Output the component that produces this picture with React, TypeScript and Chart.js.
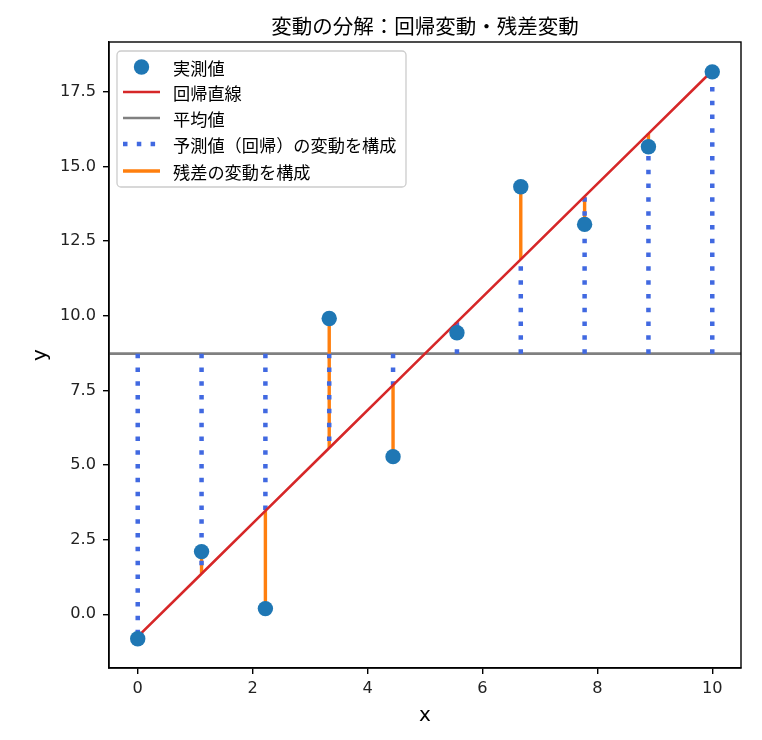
import { useEffect, useRef } from 'react';
import { Chart, registerables } from 'chart.js';

Chart.register(...registerables);

const TITLE = '変動の分解：回帰変動・残差変動';
const X_LABEL = 'x';
const Y_LABEL = 'y';
const seriesLabels = ['実測値', '回帰直線', '平均値', '予測値（回帰）の変動を構成', '残差の変動を構成'];

const xValues = [0, 1.111, 2.222, 3.333, 4.444, 5.556, 6.667, 7.778, 8.889, 10];
const yValues = [-0.82, 2.1, 0.19, 9.91, 5.28, 9.43, 14.32, 13.06, 15.66, 18.17];

const xTicks = [0, 2, 4, 6, 8, 10];
const yTicks = [0, 2.5, 5, 7.5, 10, 12.5, 15, 17.5];
const xRange = [-0.5, 10.5];
const yRange = [-1.8, 19.17];

const COLORS = {
  point: '#1f77b4',
  reg: '#d62728',
  mean: '#808080',
  explained: '#4169e1',
  resid: '#ff7f0e',
};

const JP = '"Noto Sans CJK JP", "Noto Sans", sans-serif';
const LAT = '"DejaVu Sans", sans-serif';
const DOT = [4.5, 9.3];

// least squares fit and mean from the data
const n = xValues.length;
const meanX = xValues.reduce((a, b) => a + b, 0) / n;
const meanY = yValues.reduce((a, b) => a + b, 0) / n;
let sxy = 0;
let sxx = 0;
for (let i = 0; i < n; i++) {
  sxy += (xValues[i] - meanX) * (yValues[i] - meanY);
  sxx += (xValues[i] - meanX) ** 2;
}
const slope = sxy / sxx;
const intercept = meanY - slope * meanX;
const predicted = xValues.map((x) => intercept + slope * x);

const decorPlugin = {
  id: 'decor',
  afterDraw(chart: any) {
    const ctx = chart.ctx as CanvasRenderingContext2D;
    const { left, top, right, bottom } = chart.chartArea;
    ctx.save();
    // frame
    ctx.strokeStyle = '#000';
    ctx.lineWidth = 1.4;
    ctx.strokeRect(left, top, right - left, bottom - top);

    // title
    ctx.fillStyle = '#000';
    ctx.textAlign = 'center';
    ctx.textBaseline = 'middle';
    ctx.font = `20.5px ${JP}`;
    ctx.fillText(TITLE, (left + right) / 2, top - 16);

    // axis labels
    ctx.font = `20px ${LAT}`;
    ctx.fillText(X_LABEL, (left + right) / 2, 716);
    ctx.save();
    ctx.translate(41, (top + bottom) / 2);
    ctx.rotate(-Math.PI / 2);
    ctx.fillText(Y_LABEL, 0, 0);
    ctx.restore();

    // legend
    const bx = left + 8;
    const by = top + 9;
    const bw = 289;
    const bh = 136;
    ctx.beginPath();
    (ctx as any).roundRect(bx, by, bw, bh, 4);
    ctx.fillStyle = 'rgba(255,255,255,0.8)';
    ctx.fill();
    ctx.strokeStyle = '#cccccc';
    ctx.lineWidth = 1.3;
    ctx.stroke();

    const rows = [16, 41, 67, 93, 120];
    const hx0 = bx + 6;
    const hx1 = bx + 43;
    const tx = bx + 56;
    rows.forEach((dy, i) => {
      const y = by + dy;
      ctx.setLineDash([]);
      ctx.lineCap = 'butt';
      if (i === 0) {
        ctx.beginPath();
        ctx.arc((hx0 + hx1) / 2, y, 7.7, 0, Math.PI * 2);
        ctx.fillStyle = COLORS.point;
        ctx.fill();
      } else {
        const styles: any = {
          1: [COLORS.reg, 2.6, []],
          2: [COLORS.mean, 2.6, []],
          3: [COLORS.explained, 4.5, DOT],
          4: [COLORS.resid, 3.4, []],
        };
        const [c, w, d] = styles[i];
        ctx.strokeStyle = c;
        ctx.lineWidth = w;
        ctx.setLineDash(d);
        ctx.beginPath();
        ctx.moveTo(hx0, y);
        ctx.lineTo(hx1, y);
        ctx.stroke();
        ctx.setLineDash([]);
      }
      ctx.fillStyle = '#000';
      ctx.textAlign = 'left';
      ctx.textBaseline = 'middle';
      ctx.font = `17.2px ${JP}`;
      ctx.fillText(seriesLabels[i], tx, y + 1);
    });
    ctx.restore();
  },
};

export default function App() {
  const ref = useRef<HTMLCanvasElement | null>(null);

  useEffect(() => {
    if (!ref.current) return;

    const pointData = xValues.map((x, i) => ({ x, y: yValues[i] }));
    const regData = xValues.map((x, i) => ({ x, y: predicted[i] }));
    const meanData = [
      { x: xRange[0], y: meanY },
      { x: xRange[1], y: meanY },
    ];
    const explainedData: any[] = [];
    const residData: any[] = [];
    xValues.forEach((x, i) => {
      explainedData.push({ x, y: meanY }, { x, y: predicted[i] }, { x, y: null });
      residData.push({ x, y: predicted[i] }, { x, y: yValues[i] }, { x, y: null });
    });

    const lineBase = {
      type: 'line' as const,
      pointRadius: 0,
      pointHoverRadius: 0,
      fill: false,
      tension: 0,
      spanGaps: false,
      borderCapStyle: 'butt' as const,
    };

    const chart = new Chart(ref.current, {
      type: 'scatter',
      data: {
        datasets: [
          {
            type: 'scatter',
            label: seriesLabels[0],
            data: pointData,
            pointRadius: 7.7,
            pointHoverRadius: 7.7,
            backgroundColor: COLORS.point,
            borderWidth: 0,
            order: 0,
          },
          {
            ...lineBase,
            label: seriesLabels[1],
            data: regData,
            borderColor: COLORS.reg,
            borderWidth: 2.6,
            order: 1,
          },
          {
            ...lineBase,
            label: seriesLabels[2],
            data: meanData,
            borderColor: COLORS.mean,
            borderWidth: 2.6,
            order: 4,
          },
          {
            ...lineBase,
            label: seriesLabels[3],
            data: explainedData,
            borderColor: COLORS.explained,
            borderWidth: 4.5,
            borderDash: DOT,
            order: 2,
          },
          {
            ...lineBase,
            label: seriesLabels[4],
            data: residData,
            borderColor: COLORS.resid,
            borderWidth: 3.4,
            order: 3,
          },
        ] as any,
      },
      options: {
        animation: false,
        responsive: false,
        maintainAspectRatio: false,
        events: [],
        layout: { padding: { left: 0, right: 21, top: 42, bottom: 0 } },
        plugins: {
          legend: { display: false },
          tooltip: { enabled: false },
          title: { display: false },
        },
        scales: {
          x: {
            type: 'linear',
            min: xRange[0],
            max: xRange[1],
            afterBuildTicks: (scale: any) => {
              scale.ticks = xTicks.map((v) => ({ value: v }));
            },
            afterFit: (scale: any) => {
              scale.height = 72;
            },
            grid: {
              display: true,
              drawOnChartArea: false,
              drawTicks: true,
              tickLength: 6,
              color: '#000',
              lineWidth: 1.4,
            },
            border: { display: true, color: '#000', width: 1.4 },
            ticks: {
              padding: 5,
              color: '#222',
              font: { family: LAT, size: 16.2 },
              maxRotation: 0,
              autoSkip: false,
              callback: (v: any) => String(v),
            },
          },
          y: {
            type: 'linear',
            min: yRange[0],
            max: yRange[1],
            afterBuildTicks: (scale: any) => {
              scale.ticks = yTicks.map((v) => ({ value: v }));
            },
            afterFit: (scale: any) => {
              scale.width = 109;
            },
            grid: {
              display: true,
              drawOnChartArea: false,
              drawTicks: true,
              tickLength: 6,
              color: '#000',
              lineWidth: 1.4,
            },
            border: { display: true, color: '#000', width: 1.4 },
            ticks: {
              padding: 7,
              color: '#222',
              font: { family: LAT, size: 16.2 },
              autoSkip: false,
              callback: (v: any) => Number(v).toFixed(1),
            },
          },
        },
      } as any,
      plugins: [decorPlugin],
    });

    return () => chart.destroy();
  }, []);

  return (
    <div style={{ position: 'absolute', left: 0, top: 0, width: 762, height: 740, background: '#fff' }}>
      <canvas ref={ref} width={762} height={740} style={{ width: 762, height: 740, display: 'block' }} />
    </div>
  );
}
